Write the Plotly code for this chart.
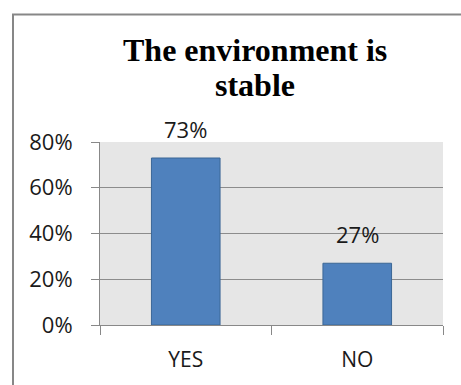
import plotly.graph_objects as go

categories = ["YES", "NO"]
values = [0.73, 0.27]
value_labels = ["73%", "27%"]
title_lines = ["The environment is", "stable"]

W, H = 461, 385
L, R, T, B = 100, 18, 142, 58
pw, ph = W - L - R, H - T - B

def px_x(p):
    return (p - L) / pw

def px_y(p):
    return (H - B - p) / ph

fig = go.Figure()
fig.add_trace(go.Bar(
    x=categories, y=values, width=0.4,
    marker=dict(color="#4f81bd", line=dict(color="#3b6796", width=1)),
    hoverinfo="skip",
))

for c, v, t in zip(categories, values, value_labels):
    fig.add_annotation(x=c, y=v, text=t, showarrow=False, yanchor="bottom",
                       yshift=12, font=dict(family="Open Sans", size=22, color="#1a1a1a"))

for line, cy in zip(title_lines, [49, 84]):
    fig.add_annotation(xref="paper", yref="paper", x=px_x(255), y=px_y(cy), yanchor="middle",
                       xanchor="center", text="<b>" + line + "</b>", showarrow=False,
                       font=dict(family="Liberation Serif", size=32, color="#000"))

fig.add_shape(type="rect", xref="paper", yref="paper",
              x0=px_x(13), y0=px_y(400), x1=px_x(480), y1=px_y(13),
              line=dict(color="#878787", width=2), layer="below")

fig.update_layout(
    width=W, height=H,
    margin=dict(l=L, r=R, t=T, b=B, pad=0),
    paper_bgcolor="white", plot_bgcolor="#e6e6e6",
    showlegend=False, bargap=0.6,
    font=dict(family="Open Sans", size=22, color="#1a1a1a"),
    xaxis=dict(type="category", tickson="boundaries", ticks="outside", ticklen=9,
               tickcolor="#888", showline=True, linecolor="#888", linewidth=1,
               showgrid=False, tickfont=dict(size=21), ticklabelstandoff=16),
    yaxis=dict(range=[0, 0.8], dtick=0.2, tickformat=".0%", ticks="outside", ticklen=8,
               tickcolor="#888", showline=True, linecolor="#888", linewidth=1,
               showgrid=True, gridcolor="#8c8c8c", gridwidth=1, zeroline=False,
               tickfont=dict(size=22), ticklabelstandoff=14),
)

fig.write_html("out.html")
